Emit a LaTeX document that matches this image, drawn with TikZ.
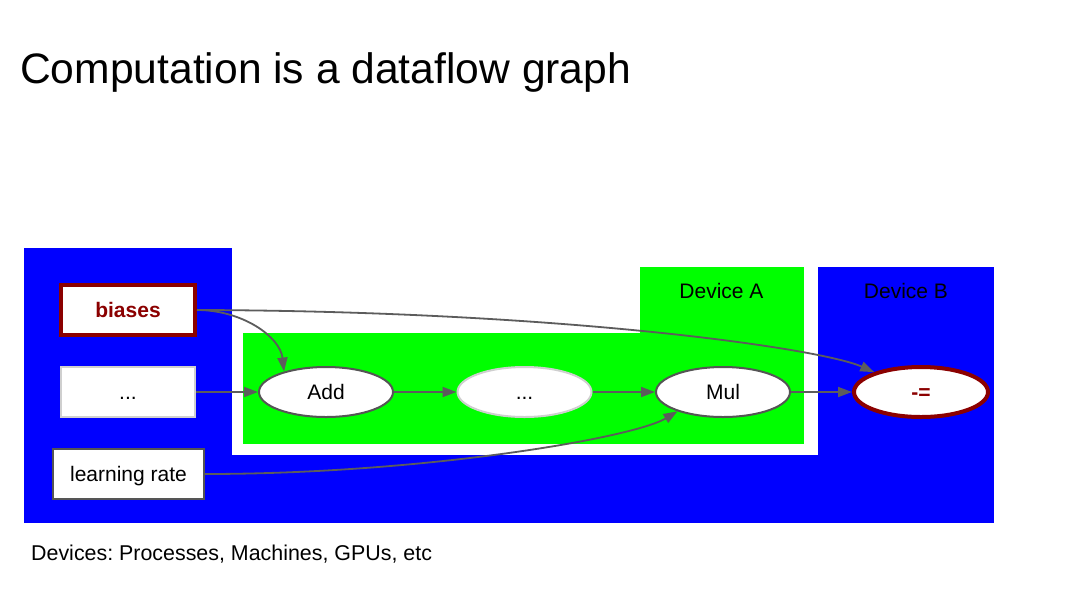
\documentclass[tikz,border=0pt]{standalone}
\usepackage{fontspec}
\setmainfont{Liberation Sans}
\usetikzlibrary{shapes.geometric,arrows.meta}
\frenchspacing
\definecolor{devblue}{HTML}{0000FF}
\definecolor{devgreen}{HTML}{00FF00}
\definecolor{dred}{HTML}{8B0000}
\definecolor{edgegray}{HTML}{5C5C5C}
\definecolor{boxgray}{HTML}{555555}
\definecolor{lightbd}{HTML}{CFCFCF}
\tikzset{
  lbl/.style={font=\fontsize{21}{25}\selectfont, inner sep=0pt},
  rbox/.style={rectangle, fill=white, minimum width=134pt, minimum height=50pt, inner sep=0pt, text height=15pt, text depth=0pt, font=\fontsize{21}{25}\selectfont},
  ebox/.style={ellipse, fill=white, minimum width=134pt, minimum height=50pt, inner sep=0pt, text height=15pt, text depth=0pt, font=\fontsize{21}{25}\selectfont},
  flow/.style={draw=edgegray, line width=1.8pt, -{Triangle[length=14pt,width=10pt]}},
}
\begin{document}
\begin{tikzpicture}[x=1pt,y=-1pt]
\useasboundingbox (0,0) rectangle (1074,595);
\fill[white] (0,0) rectangle (1074,595);
% device regions
\fill[devblue] (24,248) rectangle (232,523);
\fill[devblue] (231,455) rectangle (819,523);
\fill[devblue] (818,267) rectangle (994,523);
\fill[devgreen] (243,333) rectangle (804,444);
\fill[devgreen] (640,267) rectangle (804,334);
% texts
\node[anchor=base west, inner sep=0pt, font=\fontsize{42.6}{50}\selectfont] (title) at (20,83) {Computation is a dataflow graph};
\node[anchor=base west, inner sep=0pt, font=\fontsize{21.4}{25}\selectfont] (foot) at (31,560) {Devices: Processes, Machines, GPUs, etc};
\node[lbl, anchor=base] (devA) at (721.5,298) {Device A};
\node[lbl, anchor=base] (devB) at (906,298) {Device B};
% nodes
\node[rbox, draw=dred, line width=4pt, text=dred, font=\fontsize{21}{25}\selectfont\bfseries] (biases) at (128,310) {biases};
\node[rbox, draw=lightbd, line width=2pt] (dots1) at (128,392) {...};
\node[rbox, draw=boxgray, line width=2pt, minimum width=151pt] (lr) at (128.5,474) {learning rate};
\node[ebox, draw=boxgray, line width=2pt] (add) at (326,392) {Add};
\node[ebox, draw=lightbd, line width=2pt] (dots2) at (524.5,392) {...};
\node[ebox, draw=boxgray, line width=2pt] (mul) at (723,392) {Mul};
\node[ebox, draw=dred, line width=4pt, text=dred, font=\fontsize{21}{25}\selectfont\bfseries] (minus) at (921,392) {-=};
% edges
\draw[flow] (biases.east) .. controls +(45,0) and +(-4,-35) .. (add.154);
\draw[flow] (biases.east) .. controls +(364,1) and +(-54,-24) .. (minus.157);
\draw[flow] (dots1.east) -- (add.west);
\draw[flow] (add.east) -- (dots2.west);
\draw[flow] (dots2.east) -- (mul.west);
\draw[flow] (mul.east) -- (minus.west);
\draw[flow] (lr.east) .. controls +(216,0) and +(-45,27) .. (mul.203);
\end{tikzpicture}
\end{document}
